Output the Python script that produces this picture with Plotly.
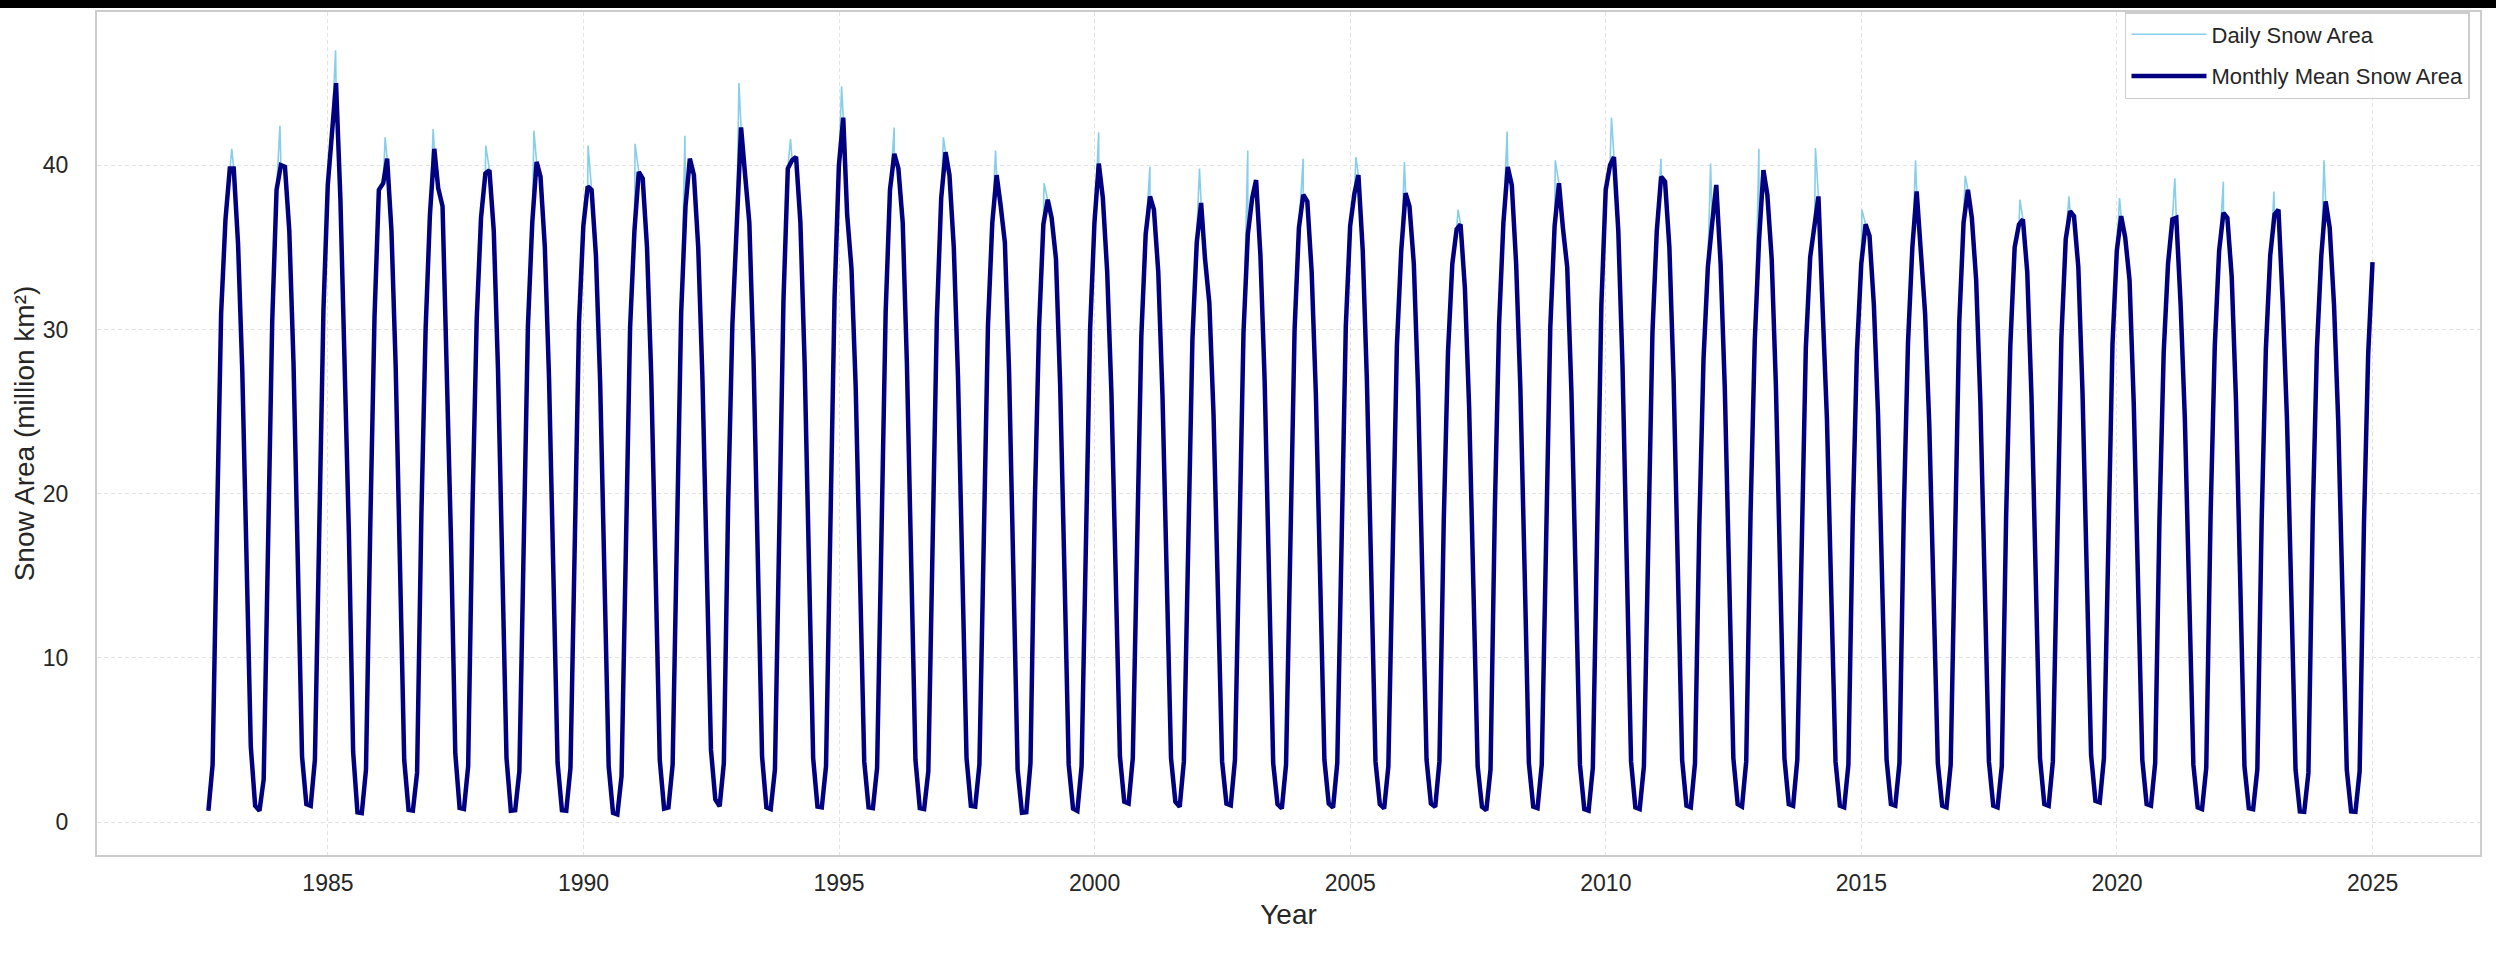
import pandas as pd
import plotly.graph_objects as go

# ---------------- data (million km²) ----------------
years = list(range(1983, 2025))
partial_1982 = [0.69, 3.5, 18.0, 31.0, 36.7]  # Aug..Dec 1982

jan = [39.8, 40.0, 42.5, 38.9, 41.0, 39.5, 40.2, 38.7, 39.6, 40.4,
       42.3, 40.3, 42.9, 40.7, 40.8, 39.4, 37.9, 40.1, 38.1, 37.7,
       38.0, 38.2, 38.3, 38.3, 36.1, 39.9, 38.9, 40.0, 39.3, 36.5,
       39.7, 36.2, 36.4, 38.4, 38.5, 36.4, 37.2, 36.9, 36.7, 37.1,
       37.0, 37.8]
feb = [39.8, 39.9, 45.0, 40.4, 38.6, 39.7, 39.3, 38.5, 39.2, 39.4,
       39.5, 40.5, 37.0, 39.8, 39.4, 37.6, 36.8, 38.0, 37.3, 34.3,
       39.1, 37.8, 39.4, 37.5, 36.4, 38.8, 36.2, 40.5, 39.0, 38.8,
       38.2, 38.1, 35.7, 35.0, 36.8, 36.7, 36.9, 35.6, 36.8, 36.8,
       37.3, 36.2]
mar = [35.2, 36.0, 38.0, 36.0, 37.5, 36.0, 35.0, 34.5, 35.0, 35.0,
       36.5, 36.5, 33.7, 36.5, 35.0, 35.3, 34.3, 33.5, 33.5, 31.6,
       34.5, 33.5, 34.8, 34.0, 32.5, 34.0, 33.8, 36.0, 35.0, 34.0,
       34.3, 31.0, 31.5, 31.0, 33.0, 33.5, 33.8, 33.0, 31.5, 33.2,
       31.5, 31.5]
apr = [27.5, 28.0, 29.0, 27.8, 28.5, 27.6, 27.0, 26.8, 27.2, 27.0,
       28.2, 28.0, 26.5, 27.9, 27.1, 27.4, 26.6, 26.2, 26.0, 24.8,
       26.9, 26.1, 26.8, 26.4, 25.3, 26.5, 26.2, 27.8, 27.0, 26.4,
       26.6, 24.5, 24.8, 24.2, 25.6, 26.0, 26.1, 25.5, 24.6, 25.8,
       24.5, 24.4]
may = [16.0, 16.8, 17.5, 16.2, 17.0, 16.1, 15.6, 15.2, 15.8, 15.5,
       16.5, 16.4, 15.0, 16.3, 15.7, 15.9, 15.1, 14.8, 14.6, 14.0,
       15.4, 14.7, 15.3, 15.0, 14.2, 15.2, 14.9, 16.0, 15.5, 15.0,
       15.1, 13.8, 14.0, 13.6, 14.5, 14.8, 14.7, 14.3, 13.9, 14.6,
       13.8, 13.7]
jun = [4.6, 4.0, 4.3, 3.8, 4.2, 3.9, 3.6, 3.4, 3.8, 4.4,
       4.0, 3.9, 3.7, 3.8, 3.9, 3.2, 3.5, 4.0, 3.9, 3.7,
       3.6, 3.8, 3.7, 3.8, 3.4, 3.6, 3.5, 3.7, 3.8, 3.9,
       3.9, 3.7, 3.8, 3.6, 3.7, 3.9, 4.1, 3.8, 3.5, 3.4,
       3.2, 3.2]
jul = [1.0, 1.1, 0.6, 0.75, 0.87, 0.69, 0.73, 0.57, 0.83, 1.38,
       0.9, 0.95, 0.9, 0.85, 1.0, 0.57, 0.83, 1.24, 1.24, 1.13,
       1.09, 1.13, 1.09, 1.13, 0.93, 0.95, 0.8, 0.9, 1.0, 1.1,
       1.1, 1.0, 1.1, 1.0, 1.0, 1.1, 1.3, 1.1, 0.9, 0.85,
       0.65, 0.65]
aug = [0.7, 1.0, 0.55, 0.7, 0.8, 0.72, 0.7, 0.47, 0.9, 0.97,
       0.8, 0.9, 0.85, 0.8, 0.95, 0.6, 0.69, 1.13, 0.93, 1.03,
       0.83, 0.89, 0.83, 0.93, 0.73, 0.85, 0.7, 0.8, 0.9, 0.95,
       1.0, 0.9, 1.0, 0.9, 0.9, 1.0, 1.2, 1.0, 0.8, 0.79,
       0.63, 0.63]
sep = [2.6, 3.8, 3.2, 3.0, 3.4, 3.1, 3.3, 2.8, 3.5, 3.6,
       3.2, 3.4, 3.3, 3.1, 3.5, 3.6, 3.4, 3.9, 3.7, 3.8,
       3.5, 3.6, 3.4, 3.7, 3.2, 3.5, 3.3, 3.4, 3.6, 3.7,
       3.8, 3.5, 3.6, 3.5, 3.4, 3.7, 3.9, 3.6, 3.3, 3.2,
       3.0, 3.1]
oct_ = [18.5, 19.0, 18.2, 18.8, 19.2, 18.6, 18.9, 18.0, 19.1, 19.5,
        18.7, 19.3, 18.4, 18.9, 19.0, 19.5, 18.6, 18.8, 18.3, 18.9,
        18.5, 19.0, 18.2, 18.4, 19.1, 18.7, 19.2, 18.6, 18.1, 18.8,
        18.4, 18.5, 18.9, 19.2, 18.6, 18.8, 18.3, 18.5, 18.7, 18.4,
        18.6, 18.2]
nov = [30.5, 31.2, 30.8, 30.0, 30.6, 30.2, 30.4, 30.1, 31.0, 30.3,
       31.8, 32.0, 31.0, 30.7, 30.2, 30.1, 30.0, 29.6, 29.4, 29.8,
       30.0, 30.2, 29.0, 28.6, 30.3, 30.1, 31.5, 29.8, 28.2, 29.3,
       28.9, 28.6, 29.2, 30.4, 29.0, 29.5, 29.1, 28.6, 29.0, 28.8,
       28.9, 28.5]
dec = [38.5, 38.8, 38.5, 37.0, 36.8, 36.5, 36.3, 36.0, 37.5, 36.5,
       39.8, 40.0, 38.5, 38.0, 36.5, 36.4, 36.5, 35.8, 35.3, 35.8,
       36.2, 36.3, 34.8, 34.0, 36.5, 36.3, 38.5, 36.0, 33.8, 35.5,
       34.4, 34.0, 35.0, 36.5, 35.0, 35.5, 34.8, 34.0, 34.8, 34.5,
       34.5, 34.1]

# daily winter maxima: time (decimal year) and value
spike_time = [1983.12, 1984.063, 1985.15, 1986.12, 1987.06, 1988.09, 1989.03,
              1990.09, 1991.01, 1991.985, 1993.04, 1994.05, 1995.05, 1996.08,
              1997.04, 1998.06, 1999.01, 2000.08, 2001.08, 2002.05, 2002.995,
              2004.08, 2005.11, 2006.06, 2007.11, 2008.07, 2009.01, 2010.11,
              2011.08, 2012.05, 2012.995, 2014.10, 2015.01, 2016.06, 2017.03,
              2018.10, 2019.06, 2020.05, 2021.13, 2022.08, 2023.07, 2024.05]
spike_value = [41.0, 42.4, 47.0, 41.7, 42.2, 41.2, 42.1, 41.2, 41.3, 41.8,
               45.0, 41.6, 44.8, 42.3, 41.7, 40.9, 38.9, 42.0, 39.9, 39.8,
               40.9, 40.4, 40.5, 40.2, 37.3, 42.05, 40.3, 42.9, 40.4, 40.1,
               41.0, 41.05, 37.3, 40.3, 39.35, 37.9, 38.1, 38.0, 39.2, 39.0,
               38.4, 40.3]

# ---------------- build series ----------------
months = [jan, feb, mar, apr, may, jun, jul, aug, sep, oct_, nov, dec]
monthly_vals = list(partial_1982)
for i in range(len(years)):
    for m in months:
        monthly_vals.append(m[i])
monthly_dates = pd.date_range("1982-08-31", "2024-12-31", freq=pd.offsets.MonthEnd())
monthly = pd.Series(monthly_vals, index=monthly_dates)

def frac_to_date(t):
    y = int(t)
    return pd.Timestamp(f"{y}-01-01") + pd.Timedelta(days=(t - y) * 365.25)

spikes = pd.Series(spike_value, index=[frac_to_date(t) for t in spike_time])
daily = pd.concat([monthly, spikes]).sort_index()

# ---------------- figure ----------------
FONT = "Liberation Sans, Arial, Helvetica, sans-serif"
TXT = "#262626"

fig = go.Figure()
fig.add_trace(go.Scatter(x=daily.index, y=daily.values, mode="lines",
                         name="Daily Snow Area", legendgroup="d",
                         line=dict(color="#87CEEB", width=1.6)))
fig.add_trace(go.Scatter(x=monthly.index, y=monthly.values, mode="lines",
                         name="Monthly Mean Snow Area", legendgroup="m",
                         line=dict(color="#000080", width=4.5)))

axis_common = dict(showgrid=True, gridcolor="#e2e2e2", griddash="4px,3px", gridwidth=1,
                   showline=True, mirror=True, linecolor="#cccccc", linewidth=2,
                   zeroline=False, ticks="outside", tickcolor="rgba(0,0,0,0)",
                   tickfont=dict(size=23, color=TXT, family=FONT))

fig.update_layout(
    width=2496, height=955,
    margin=dict(l=97, r=16, t=10, b=100),
    paper_bgcolor="white", plot_bgcolor="white",
    font=dict(family=FONT, color=TXT),
    xaxis=dict(type="date", range=["1980-06-26", "2027-02-07"],
               tick0="1985-01-01", dtick="M60", tickformat="%Y", ticklen=6,
               title=dict(text="Year", font=dict(size=28, color=TXT, family=FONT), standoff=10),
               **axis_common),
    yaxis=dict(range=[-2.0, 49.33], tick0=0, dtick=10, ticklen=22,
               title=dict(text="Snow Area (million km²)", font=dict(size=28, color=TXT, family=FONT),
                          standoff=0),
               **axis_common),
    legend=dict(x=0.9958, y=1.0, xanchor="right", yanchor="top",
                bgcolor="rgba(255,255,255,0.85)", bordercolor="#cccccc", borderwidth=1.5,
                font=dict(size=22, color=TXT, family=FONT), itemwidth=75,
                tracegroupgap=10),
    shapes=[dict(type="rect", xref="paper", yref="paper",
                 x0=-0.05, x1=1.01, y0=1 + 4 / 845, y1=1 + 12 / 845,
                 fillcolor="black", line=dict(width=0), layer="above")],
)

fig.write_html("out.html", config={"displayModeBar": False},
               post_script="document.body.style.margin='0px';")
